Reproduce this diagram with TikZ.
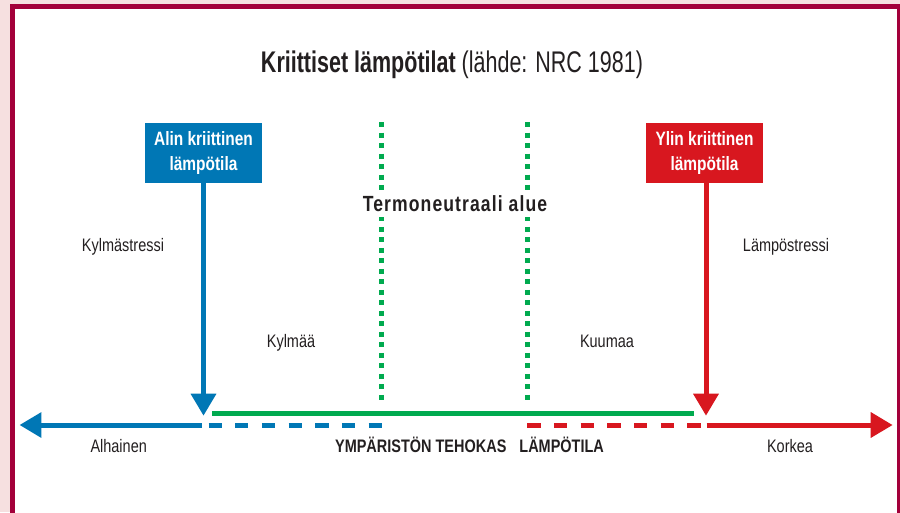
\documentclass[tikz,border=0pt]{standalone}
\usepackage{fontspec}
\setmainfont{Liberation Sans}[FakeStretch=0.8]
\newfontfamily\spacedfont{Liberation Sans}[FakeStretch=0.8,LetterSpace=5]
\newfontfamily\titlefont{Liberation Sans}[FakeStretch=0.72]
\usepackage{xcolor}
\usetikzlibrary{arrows.meta}

\definecolor{framered}{HTML}{A3003A}
\definecolor{framepink}{HTML}{F6E0E0}
\definecolor{lowblue}{HTML}{0077B5}
\definecolor{highred}{HTML}{D8171F}
\definecolor{zonegreen}{HTML}{00AA4F}
\definecolor{inkgray}{HTML}{231F20}

\tikzset{
  critbox/.style={fill=#1, text=white, font=\fontsize{11}{14.2}\selectfont\bfseries,
    align=center, minimum width=2.34cm, minimum height=1.19cm, inner sep=0pt},
  zonetext/.style={text=inkgray, font=\fontsize{10.3}{12}\selectfont, anchor=base, inner sep=0pt},
  bar/.style={line width=0.1cm, draw=#1},
  bigtip/.style={-{Triangle[length=0.44cm,width=0.49cm]}},
  dashbar/.style={bar=#1, dash pattern=on 0.266cm off 0.268cm},
  dotbar/.style={bar=zonegreen, dash pattern=on 0.1cm off 0.11cm}
}

\begin{document}
\begin{tikzpicture}[x=0.02cm, y=-0.02cm]
  \useasboundingbox (0,0) rectangle (900,512);
  \fill[framepink] (0,0) rectangle (900,512);
  \fill[framered] (10,4) rectangle (910,520);
  \fill[white] (15,9) rectangle (897,520);

  \node[zonetext, font=\fontsize{17}{20}\titlefont] (title) at (452,72.7)
    {\textbf{Kriittiset lämpötilat} (lähde: NRC 1981)};

  \node[critbox=lowblue] (lowbox) at (203.5,153) {Alin kriittinen\\lämpötila};
  \node[critbox=highred] (highbox) at (704.5,153) {Ylin kriittinen\\lämpötila};

  \coordinate (lowtip) at (203.5,415.7);
  \coordinate (hightip) at (706,415.7);
  \coordinate (tnlefttop) at (381.5,122);
  \coordinate (tnleftbot) at (381.5,405);
  \coordinate (tnrighttop) at (527.5,122);
  \coordinate (tnrightbot) at (527.5,405);
  \coordinate (greenstart) at (212.3,413.3);
  \coordinate (greenend) at (694,413.3);
  \coordinate (leftend) at (19.5,425);
  \coordinate (lowsolid) at (202,425);
  \coordinate (lowdash) at (208.5,425);
  \coordinate (lowdashend) at (382,425);
  \coordinate (highdash) at (527.3,425);
  \coordinate (highdashend) at (701,425);
  \coordinate (highsolid) at (706.7,425);
  \coordinate (rightend) at (892.7,425);

  \draw[dotbar] (tnlefttop) -- (tnleftbot);
  \draw[dotbar] (tnrighttop) -- (tnrightbot);
  \node[text=inkgray, fill=white, font=\fontsize{12.5}{14}\spacedfont\bfseries,
    anchor=base, inner xsep=1pt, inner ysep=3pt] (tnzone) at (455,211.7) {Termoneutraali alue};

  \draw[bar=lowblue, bigtip] (lowbox.south) -- (lowtip);
  \draw[bar=highred, bigtip] (highbox.south -| hightip) -- (hightip);

  \draw[bar=zonegreen] (greenstart) -- (greenend);
  \draw[bar=lowblue, bigtip] (lowsolid) -- (leftend);
  \draw[dashbar=lowblue] (lowdash) -- (lowdashend);
  \draw[dashbar=highred] (highdash) -- (highdashend);
  \draw[bar=highred, bigtip] (highsolid) -- (rightend);

  \node[zonetext] (coldstress) at (123,251) {Kylmästressi};
  \node[zonetext] (heatstress) at (786,251) {Lämpöstressi};
  \node[zonetext] (cool) at (291,347) {Kylmää};
  \node[zonetext] (warm) at (607,347) {Kuumaa};
  \node[zonetext] (low) at (118.7,452.7) {Alhainen};
  \node[zonetext] (high) at (790,452.7) {Korkea};
  \node[zonetext, font=\fontsize{10.3}{12}\selectfont\bfseries] (efftemp) at (469.5,452.7)
    {YMPÄRISTÖN TEHOKAS\hspace{7.4pt}LÄMPÖTILA};
\end{tikzpicture}
\end{document}
